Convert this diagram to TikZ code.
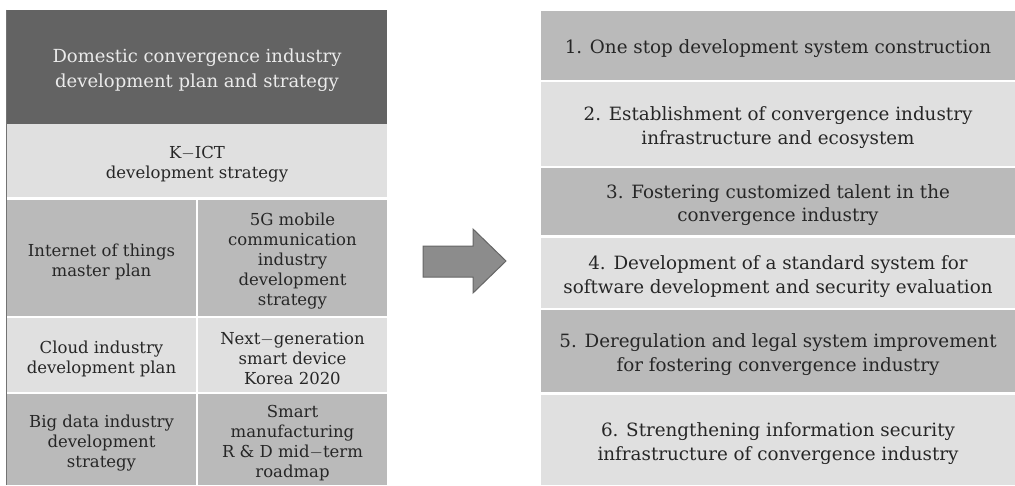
\documentclass[tikz,border=0pt]{standalone}
\usepackage{fontspec}
\setmainfont{DejaVu Serif}
\begin{document}
\begin{tikzpicture}[x=1pt,y=-1pt,
  cell/.style={rectangle, inner sep=0pt},
  txt/.style={align=center, text=black!85, inner sep=0pt, yshift=-3.5pt},
  ltxt/.style={txt, font=\fontsize{16.5}{20}\selectfont},
  htxt/.style={txt, text=black!8, font=\fontsize{18}{25}\selectfont},
  rtxt/.style={txt, font=\fontsize{18.3}{23.3}\selectfont},
  rcell/.style={cell, minimum width=474pt},
  darkfill/.style={fill=black!61},
  midfill/.style={fill=black!27},
  lightfill/.style={fill=black!12},
  bigarrow/.style={fill=black!45, draw=black!60, line width=1pt, line join=miter}]
\useasboundingbox (0,0) rectangle (1015,485);
\fill[white] (0,0) rectangle (1015,485);

% left table: national strategies
\node[cell, darkfill, minimum width=380pt, minimum height=114pt,
  label={[htxt]center:Domestic convergence industry\\development plan and strategy}] (head) at (197,67) {};
\node[cell, lightfill, minimum width=380pt, minimum height=73pt,
  label={[ltxt]center:K$-$ICT\\development strategy}] (kict) at (197,160.5) {};
\node[cell, midfill, minimum width=189pt, minimum height=116pt,
  label={[ltxt]center:Internet of things\\master plan}] (iot) at (101.5,258) {};
\node[cell, midfill, minimum width=189pt, minimum height=116pt,
  label={[ltxt]center:5G mobile\\communication\\industry\\development\\strategy}] (fiveg) at (292.5,258) {};
\node[cell, lightfill, minimum width=189pt, minimum height=74pt,
  label={[ltxt]center:Cloud industry\\development plan}] (cloud) at (101.5,355) {};
\node[cell, lightfill, minimum width=189pt, minimum height=74pt,
  label={[ltxt]center:Next$-$generation\\smart device\\Korea 2020}] (nextgen) at (292.5,355) {};
\node[cell, midfill, minimum width=189pt, minimum height=91pt,
  label={[ltxt]center:Big data industry\\development\\strategy}] (bigdata) at (101.5,439.5) {};
\node[cell, midfill, minimum width=189pt, minimum height=91pt,
  label={[ltxt]center:Smart\\manufacturing\\R \& D mid$-$term\\roadmap}] (smart) at (292.5,439.5) {};
\draw[black!55, line width=1pt] (head.north west) -- (iot.west |- bigdata.south);

% block arrow
\fill[bigarrow] (423,246) -- (473,246) -- (473,229) -- (506,261) -- (473,293)
  -- (473,277) -- (423,277) -- cycle;

% right column: strategic tasks
\node[rcell, midfill, minimum height=69pt,
  label={[rtxt]center:1. One stop development system construction}] (t1) at (778,45.5) {};
\node[rcell, lightfill, minimum height=84pt,
  label={[rtxt]center:2. Establishment of convergence industry\\infrastructure and ecosystem}] (t2) at (778,124) {};
\node[rcell, midfill, minimum height=67pt,
  label={[rtxt]center:3. Fostering customized talent in the\\convergence industry}] (t3) at (778,201.5) {};
\node[rcell, lightfill, minimum height=70pt,
  label={[rtxt]center:4. Development of a standard system for\\software development and security evaluation}] (t4) at (778,273) {};
\node[rcell, midfill, minimum height=82pt,
  label={[rtxt]center:5. Deregulation and legal system improvement\\for fostering convergence industry}] (t5) at (778,351) {};
\node[rcell, lightfill, minimum height=90pt,
  label={[rtxt]center:6. Strengthening information security\\infrastructure of convergence industry}] (t6) at (778,440) {};
\end{tikzpicture}
\end{document}
